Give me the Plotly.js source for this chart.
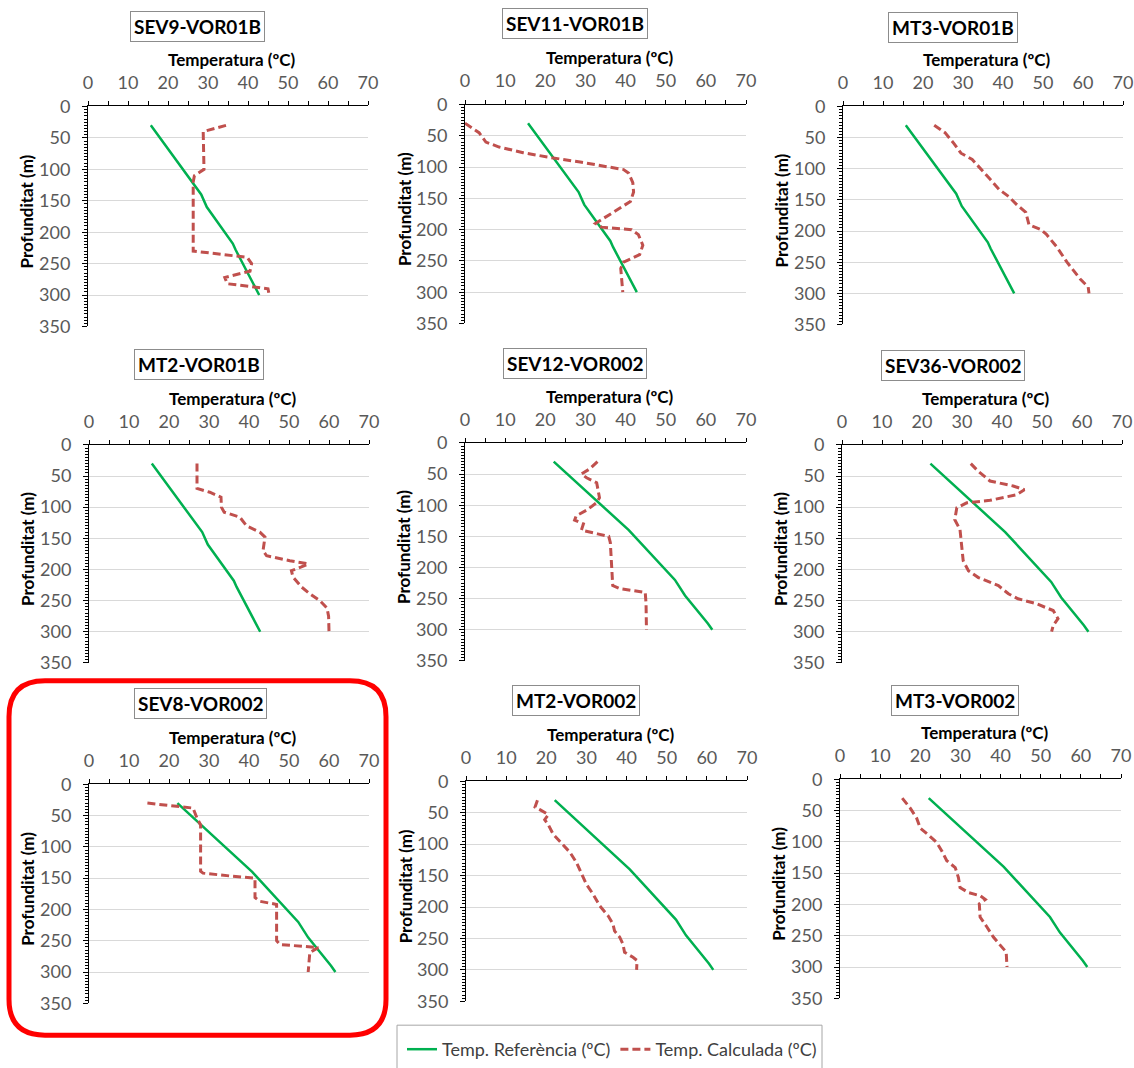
<!DOCTYPE html>
<html>
<head>
<meta charset="utf-8">
<script src="https://cdn.plot.ly/plotly-3.0.1.min.js"></script>
<style>
html,body{margin:0;padding:0;background:#fff;}
#chart{width:1134px;height:1068px;}
</style>
</head>
<body>
<div id="chart"></div>
<script>
// ---------------- DATA ----------------
const panelTitles = ["SEV9-VOR01B","SEV11-VOR01B","MT3-VOR01B","MT2-VOR01B","SEV12-VOR002","SEV36-VOR002","SEV8-VOR002","MT2-VOR002","MT3-VOR002"];
const xTitle = "Temperatura (ºC)";
const yTitle = "Profunditat (m)";
const legendRef = "Temp. Referència (ºC)";
const legendCalc = "Temp. Calculada (ºC)";
const xTickVals = [0,10,20,30,40,50,60,70];
const yTickVals = [0,50,100,150,200,250,300,350];

// Reference temperature profiles (two wells)
const refDepth_VOR01B = [30, 140, 160, 218, 228, 300];
const refTemp_VOR01B  = [15.7, 28.3, 29.7, 36.2, 36.9, 42.8];
const refDepth_VOR002 = [30, 140, 220, 245, 290, 300];
const refTemp_VOR002  = [22.1, 40.8, 52.3, 54.8, 60.5, 61.6];

// Calculated temperature profiles
const calcD_SEV9_VOR01B = [30, 40, 100, 110, 120, 230, 240, 250, 262, 272, 282, 290, 300];
const calcT_SEV9_VOR01B = [34.5, 28.8, 29.0, 26.6, 26.3, 26.3, 39.8, 40.9, 40.5, 34.2, 34.8, 45.0, 45.3];

const calcD_SEV11_VOR01B = [30, 45, 60, 68, 77, 84, 92, 100, 104, 110, 125, 140, 155, 172, 190, 196, 200, 208, 225, 240, 252, 262, 280, 300];
const calcT_SEV11_VOR01B = [0, 3.5, 5.2, 8.5, 14.5, 20.5, 28.7, 36.2, 39.5, 40.8, 41.8, 42.0, 41.2, 37.0, 32.5, 34.0, 41.5, 43.2, 44.3, 43.5, 39.5, 38.8, 39.0, 39.3];

const calcD_MT3_VOR01B = [30, 42, 60, 75, 85, 100, 117, 133, 145, 158, 170, 190, 197, 205, 226, 250, 277, 290, 300];
const calcT_MT3_VOR01B = [22.8, 25.5, 27.8, 29.5, 32.3, 34.3, 36.8, 39.0, 41.5, 43.5, 45.7, 46.5, 49.3, 50.8, 53.5, 56.0, 59.3, 61.3, 61.5];

const calcD_MT2_VOR01B = [30, 70, 76, 84, 100, 108, 116, 130, 140, 148, 170, 178, 186, 191, 196, 202, 212, 228, 239, 250, 262, 275, 300];
const calcT_MT2_VOR01B = [27.0, 27.0, 30.2, 33.0, 33.1, 33.8, 37.7, 39.4, 42.7, 44.0, 43.5, 44.4, 50.2, 54.8, 53.1, 50.6, 51.0, 53.1, 55.2, 57.7, 59.5, 59.9, 60.0];

const calcD_SEV12_VOR002 = [30, 42, 50, 56, 64, 88, 96, 108, 117, 124, 130, 140, 146, 150, 160, 200, 229, 234, 240, 258, 300];
const calcT_SEV12_VOR002 = [33.0, 31.0, 29.0, 30.3, 32.8, 33.5, 32.8, 30.3, 27.7, 27.3, 29.5, 29.0, 33.0, 35.8, 36.2, 36.5, 36.8, 38.6, 44.9, 45.1, 45.2];

const calcD_SEV36_VOR002 = [30, 42, 58, 66, 72, 80, 89, 93, 101, 120, 136, 162, 186, 202, 213, 226, 239, 247, 255, 266, 279, 290, 300];
const calcT_SEV36_VOR002 = [32.2, 34.0, 37.0, 42.8, 45.6, 43.6, 37.0, 31.2, 28.7, 28.2, 29.5, 29.9, 30.3, 31.6, 34.1, 39.1, 41.6, 44.0, 48.6, 52.8, 54.0, 52.8, 52.4];

const calcD_SEV8_VOR002 = [30, 35, 38, 54, 65, 139, 142, 147, 150, 181, 187, 192, 250, 256, 261, 269, 300];
const calcT_SEV8_VOR002 = [14.6, 21.0, 26.0, 27.0, 27.9, 27.9, 28.5, 36.0, 41.5, 41.5, 42.7, 46.9, 46.9, 47.7, 57.3, 55.2, 54.8];

const calcD_MT2_VOR002 = [30, 41, 45, 53, 61, 69, 84, 98, 113, 129, 148, 164, 180, 198, 214, 227, 238, 248, 259, 272, 280, 285, 300];
const calcT_MT2_VOR002 = [17.8, 17.2, 18.4, 20.5, 19.6, 20.5, 21.7, 23.8, 25.9, 27.5, 28.8, 30.0, 31.7, 33.3, 35.4, 36.6, 37.0, 38.3, 39.1, 39.5, 41.6, 42.6, 42.5];

const calcD_MT3_VOR002 = [30, 46, 62, 78, 91, 101, 115, 130, 141, 157, 173, 181, 186, 192, 199, 220, 236, 252, 265, 276, 300];
const calcT_MT3_VOR002 = [15.5, 17.5, 19.1, 20.0, 22.4, 24.1, 25.4, 26.6, 28.7, 29.5, 29.9, 32.0, 34.9, 36.2, 34.7, 34.9, 36.6, 38.2, 39.9, 41.4, 41.6];

// ---------------- LAYOUT ----------------
const W = 1134, H = 1068;
const px = v => v / W;
const py = v => 1 - v / H;

// plot-area boxes in pixels [left, right, top, bottom]
const boxes = [
  [88, 368, 107, 328], [465, 746, 105, 325], [843, 1123, 107, 326],
  [89, 369, 447, 666], [465, 746, 445, 664], [842, 1122, 447, 666],
  [89, 369, 788, 1008], [466, 747, 785, 1006], [840, 1121, 783, 1003]
];
const titleCenters = [[197,27],[575,24],[953,28],[199,366],[575,365],[953,367],[200,707],[576,704],[955,704]];

const refSets = [
  [refTemp_VOR01B, refDepth_VOR01B],[refTemp_VOR01B, refDepth_VOR01B],[refTemp_VOR01B, refDepth_VOR01B],[refTemp_VOR01B, refDepth_VOR01B],
  [refTemp_VOR002, refDepth_VOR002],[refTemp_VOR002, refDepth_VOR002],[refTemp_VOR002, refDepth_VOR002],[refTemp_VOR002, refDepth_VOR002],[refTemp_VOR002, refDepth_VOR002]
];
const calcSets = [
  [calcT_SEV9_VOR01B, calcD_SEV9_VOR01B],[calcT_SEV11_VOR01B, calcD_SEV11_VOR01B],[calcT_MT3_VOR01B, calcD_MT3_VOR01B],
  [calcT_MT2_VOR01B, calcD_MT2_VOR01B],[calcT_SEV12_VOR002, calcD_SEV12_VOR002],[calcT_SEV36_VOR002, calcD_SEV36_VOR002],
  [calcT_SEV8_VOR002, calcD_SEV8_VOR002],[calcT_MT2_VOR002, calcD_MT2_VOR002],[calcT_MT3_VOR002, calcD_MT3_VOR002]
];

const FONT = "Lato, 'Open Sans', sans-serif";
const GREEN = "#00b050", RED = "#c0504d";

const data = [];
const layout = {
  width: W, height: H,
  margin: {l:0, r:0, t:0, b:0},
  paper_bgcolor: "#fff", plot_bgcolor: "#fff",
  font: {family: FONT, size: 18, color: "#595959"},
  showlegend: true,
  legend: {
    orientation: "h", x: px(402), y: py(1036), xanchor: "left", yanchor: "top",
    font: {family: FONT, size: 18, color: "#404040"},
    bgcolor: "rgba(0,0,0,0)", itemwidth: 30, tracegroupgap: 0
  },
  annotations: [], shapes: []
};

boxes.forEach((b, i) => {
  const n = i + 1;
  const xa = n === 1 ? "x" : "x" + n;
  const ya = n === 1 ? "y" : "y" + n;
  const xk = n === 1 ? "xaxis" : "xaxis" + n;
  const yk = n === 1 ? "yaxis" : "yaxis" + n;
  data.push({
    x: refSets[i][0], y: refSets[i][1], xaxis: xa, yaxis: ya, type: "scatter", mode: "lines",
    name: legendRef, showlegend: i === 0, legendgroup: "ref",
    line: {color: GREEN, width: 2.5}, hoverinfo: "skip"
  });
  data.push({
    x: calcSets[i][0], y: calcSets[i][1], xaxis: xa, yaxis: ya, type: "scatter", mode: "lines",
    name: legendCalc, showlegend: i === 0, legendgroup: "calc",
    line: {color: RED, width: 3, dash: "8px,4px"}, hoverinfo: "skip"
  });
  layout[xk] = {
    domain: [px(b[0]), px(b[1])], anchor: ya, side: "top", range: [0, 70],
    tickvals: xTickVals, ticks: "outside", ticklen: 4, tickcolor: "#000", tickwidth: 1,
    minor: {dtick: 5, ticks: "outside", ticklen: 4, tickcolor: "#000", showgrid: false},
    showline: true, linecolor: "#000", linewidth: 1, showgrid: false, zeroline: false,
    tickfont: {family: FONT, size: 18, color: "#595959"}, ticklabelstandoff: 5, fixedrange: true
  };
  layout[yk] = {
    domain: [py(b[3]), py(b[2])], anchor: xa, range: [350, 0],
    tickvals: yTickVals, ticks: "outside", ticklen: 5, tickcolor: "#000", tickwidth: 1,
    minor: {dtick: 5, ticks: "outside", ticklen: 3, tickcolor: "#000", showgrid: false},
    showline: true, linecolor: "#000", linewidth: 1, showgrid: true, gridcolor: "#d9d9d9", gridwidth: 1,
    zeroline: false, tickfont: {family: FONT, size: 18, color: "#595959"}, ticklabelstandoff: 8, fixedrange: true
  };
  // panel title (boxed)
  layout.annotations.push({
    xref: "paper", yref: "paper", x: px(titleCenters[i][0]), y: py(titleCenters[i][1]),
    xanchor: "center", yanchor: "middle", showarrow: false,
    text: "<b>" + panelTitles[i] + "</b>",
    font: {family: FONT, size: 19, color: "#000"},
    bordercolor: "#8c8c8c", borderwidth: 1, borderpad: 3, bgcolor: "#fff"
  });
  // x axis title
  layout.annotations.push({
    xref: "paper", yref: "paper", x: px((b[0] + b[1]) / 2 + 4), y: py(b[2] - 47),
    xanchor: "center", yanchor: "middle", showarrow: false,
    text: "<b>" + xTitle + "</b>", font: {family: FONT, size: 17, color: "#000"}
  });
  // y axis title
  layout.annotations.push({
    xref: "paper", yref: "paper", x: px(b[0] - 61), y: py((b[2] + b[3]) / 2 - 5),
    xanchor: "center", yanchor: "middle", showarrow: false, textangle: -90,
    text: "<b>" + yTitle + "</b>", font: {family: FONT, size: 17, color: "#000"}
  });
});

// legend frame
layout.shapes.push({
  type: "rect", xref: "paper", yref: "paper",
  x0: px(397), x1: px(822), y0: py(1030), y1: py(1075),
  line: {color: "#a6a6a6", width: 1}, fillcolor: "rgba(0,0,0,0)"
});

// red rounded highlight frame
(function(){
  const x0 = 9, x1 = 386, y0 = 684, y1 = 1040, r = 36;
  const P = (x, y) => px(x) + "," + py(y);
  const path = "M" + P(x0 + r, y0) + " L" + P(x1 - r, y0) + " Q" + P(x1, y0) + " " + P(x1, y0 + r) +
    " L" + P(x1, y1 - r) + " Q" + P(x1, y1) + " " + P(x1 - r, y1) +
    " L" + P(x0 + r, y1) + " Q" + P(x0, y1) + " " + P(x0, y1 - r) +
    " L" + P(x0, y0 + r) + " Q" + P(x0, y0) + " " + P(x0 + r, y0) + " Z";
  layout.shapes.push({type: "path", xref: "paper", yref: "paper", path: path, line: {color: "#ff0000", width: 5}});
})();

Plotly.newPlot("chart", data, layout, {displayModeBar: false, staticPlot: true});
</script>
</body>
</html>
